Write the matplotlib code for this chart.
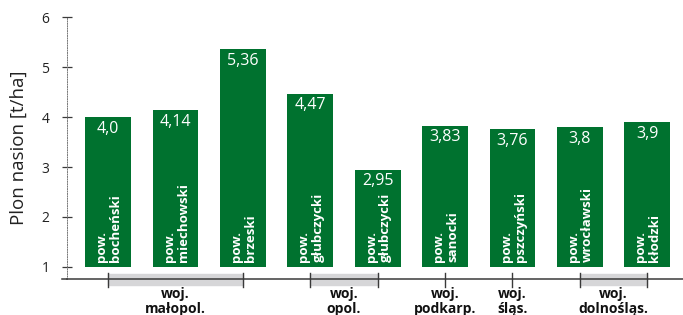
import matplotlib
matplotlib.use('Agg')
import matplotlib.pyplot as plt

# data
values = [4.0, 4.14, 5.36, 4.47, 2.95, 3.83, 3.76, 3.8, 3.9]
value_labels = ['4,0', '4,14', '5,36', '4,47', '2,95', '3,83', '3,76', '3,8', '3,9']
districts = ['bocheński', 'miechowski', 'brzeski', 'głubczycki', 'głubczycki',
             'sanocki', 'pszczyński', 'wrocławski', 'kłodzki']
group_names = ['woj.\nmałopol.', 'woj.\nopol.', 'woj.\npodkarp.', 'woj.\nśląs.', 'woj.\ndolnośląs.']
group_start = [0, 3, 5, 6, 7]
group_end = [2, 4, 5, 6, 8]
yticks = [1, 2, 3, 4, 5, 6]

GREEN = '#00722f'
BAND = '#d6d6d8'
DARK = '#3a3a3a'

plt.rcParams['font.family'] = ['Open Sans', 'DejaVu Sans']

fig = plt.figure(figsize=(6.83, 3.15), dpi=100)
ax = fig.add_axes([67 / 683, 36 / 315, 616 / 683, 262 / 315])

x = list(range(len(values)))
ax.bar(x, [v - 1 for v in values], bottom=1, width=0.68, color=GREEN, zorder=2)

for i, v in enumerate(values):
    ax.text(i, v - 0.07, value_labels[i], ha='center', va='top',
            color='white', fontsize=11.5, zorder=3)
    ax.text(i + 0.01, 1.1, 'pow.\n' + districts[i], rotation=90, ha='center',
            va='bottom', multialignment='left', color='white',
            fontsize=9.5, fontweight='bold', linespacing=1.1, zorder=3)

ax.set_xlim(-0.61, 8.53)
ax.set_ylim(0.76, 6)
ax.set_xticks([])
ax.set_yticks(yticks)
ax.set_yticklabels([str(t) for t in yticks], fontsize=10, color='#222222')
ax.tick_params(axis='y', direction='inout', length=7.5, width=0.9,
               color=DARK, pad=9)

for s in ['top', 'right']:
    ax.spines[s].set_visible(False)
ax.spines['left'].set_linestyle((0, (1, 1.5)))
ax.spines['left'].set_color('#777777')
ax.spines['left'].set_linewidth(0.7)
ax.spines['bottom'].set_color(DARK)
ax.spines['bottom'].set_linewidth(1.1)
ax.plot([-0.69, -0.61], [0.76, 0.76], color=DARK, lw=1.1, clip_on=False)

# group bands under the axis
for name, a, b in zip(group_names, group_start, group_end):
    if b > a:
        ax.fill_between([a, b], 0.64, 0.86, color=BAND, zorder=0, clip_on=False)
    for t in sorted(set([a, b])):
        ax.plot([t, t], [0.6, 0.88], color=DARK, lw=1.0, clip_on=False, zorder=4)
    ax.text((a + b) / 2, 0.6, name, ha='center', va='top', fontsize=10,
            fontweight='bold', linespacing=1.1, color='#111111', clip_on=False)

ax.set_ylabel('Plon nasion [t/ha]', fontsize=13.5, color='#222222', labelpad=10)

fig.savefig('out.png', dpi=100)
